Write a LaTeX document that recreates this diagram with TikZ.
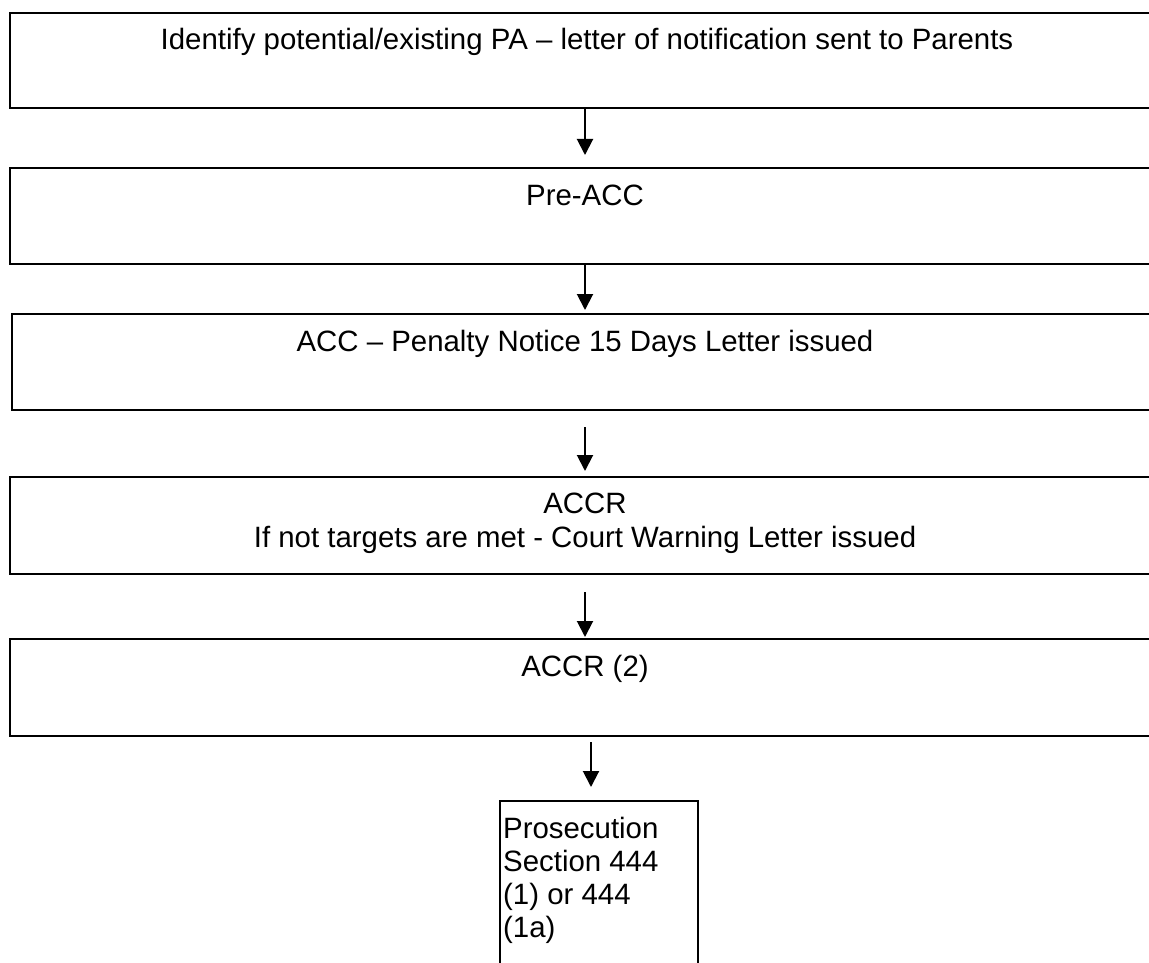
\documentclass[tikz,border=0pt]{standalone}
\usepackage{fontspec}
\setmainfont{Liberation Sans}
\usetikzlibrary{arrows.meta}
\begin{document}
\begin{tikzpicture}[x=1pt,y=-1pt,
  box/.style={draw=black,line width=2pt,rectangle,inner sep=0pt,anchor=north west},
  txt/.style={inner sep=0pt,font=\fontsize{29.4}{34}\selectfont,anchor=base},
  txtl/.style={txt,anchor=base west},
  arr/.style={line width=2pt,-{Triangle[length=16pt,width=16pt]}}]
\useasboundingbox (0,0) rectangle (1149,963);
\clip (0,0) rectangle (1149,963);
\node[box,minimum width=1152pt,minimum height=95pt] (b1) at (9,12) {};
\node[box,minimum width=1152pt,minimum height=96pt] (b2) at (9,167) {};
\node[box,minimum width=1150pt,minimum height=96pt] (b3) at (11,313) {};
\node[box,minimum width=1152pt,minimum height=97pt] (b4) at (9,476) {};
\node[box,minimum width=1152pt,minimum height=97pt] (b5) at (9,638) {};
\node[box,minimum width=198pt,minimum height=180pt] (b6) at (499,800) {};
\node[txt] (t1) at (587,50) {Identify potential/existing PA – letter of notification sent to Parents};
\node[txt] (t2) at (585,205) {Pre-ACC};
\node[txt] (t3) at (585,351) {ACC – Penalty Notice 15 Days Letter issued};
\node[txt] (t4a) at (585,513) {ACCR};
\node[txt] (t4b) at (585,547) {If not targets are met - Court Warning Letter issued};
\node[txt] (t5) at (585,676) {ACCR (2)};
\node[txtl] (t6a) at (503,838) {Prosecution};
\node[txtl] (t6b) at (503,871) {Section 444};
\node[txtl] (t6c) at (503,904) {(1) or 444};
\node[txtl] (t6d) at (503,937) {(1a)};
\coordinate (c1) at (585,0);
\coordinate (c5) at (591,0);
\draw[arr,shorten >=12pt] (b1.south -| c1) -- (b2.north -| c1);
\draw[arr,shorten >=3pt] (b2.south -| c1) -- (b3.north -| c1);
\draw[arr,shorten <=16pt,shorten >=5pt] (b3.south -| c1) -- (b4.north -| c1);
\draw[arr,shorten <=17pt,shorten >=1pt] (b4.south -| c1) -- (b5.north -| c1);
\draw[arr,shorten <=5pt,shorten >=13pt] (b5.south -| c5) -- (b6.north -| c5);
\end{tikzpicture}
\end{document}
